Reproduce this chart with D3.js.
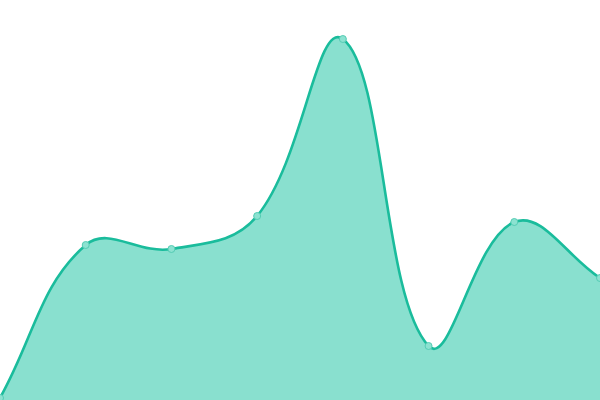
<!DOCTYPE html>
<html>
<head>
<meta charset="utf-8">
<script src="https://cdn.jsdelivr.net/npm/d3@7"></script>
<style>
  html, body { margin: 0; padding: 0; background: #fff; }
  svg { display: block; }
</style>
</head>
<body>
<div id="chart"></div>
<script>
"use strict";

const categories = ["A", "B", "C", "D", "E", "F", "G", "H"];
const values = [2, 155, 151, 184, 361, 54, 178, 122];

const WIDTH = 600;
const HEIGHT = 400;
const TENSION = 0.4;

// distance weighted spline, control points from neighbours
function splineCurve(context)
{
    return {
        areaStart() { this._line = 0; },
        areaEnd() { this._line = NaN; },
        lineStart() { this._pts = []; },
        point(px, py) { this._pts.push([+px, +py]); },
        lineEnd()
        {
            let p = this._pts, n = p.length;
            if (n)
            {
                if (this._line) context.lineTo(p[0][0], p[0][1]);
                else context.moveTo(p[0][0], p[0][1]);

                let cps = p.map((cur, i) =>
                {
                    let prev = p[Math.max(i - 1, 0)];
                    let next = p[Math.min(i + 1, n - 1)];
                    let d01 = Math.hypot(cur[0] - prev[0], cur[1] - prev[1]);
                    let d12 = Math.hypot(next[0] - cur[0], next[1] - cur[1]);
                    let s01 = d01 / (d01 + d12) || 0;
                    let s12 = d12 / (d01 + d12) || 0;
                    let fa = TENSION * s01, fb = TENSION * s12;
                    return {
                        inX: cur[0] - fa * (next[0] - prev[0]),
                        inY: cur[1] - fa * (next[1] - prev[1]),
                        outX: cur[0] + fb * (next[0] - prev[0]),
                        outY: cur[1] + fb * (next[1] - prev[1])
                    };
                });

                for (let i = 1; i < n; i++)
                    context.bezierCurveTo(cps[i - 1].outX, cps[i - 1].outY,
                                          cps[i].inX, cps[i].inY,
                                          p[i][0], p[i][1]);
            }
            if (this._line || (this._line !== 0 && n === 1)) context.closePath();
            this._line = 1 - this._line;
        }
    };
}

let svg = d3.select("#chart")
            .append("svg")
            .attr("width", WIDTH)
            .attr("height", HEIGHT);

let x = d3.scalePoint()
          .domain(categories)
          .range([0, WIDTH]);

let y = d3.scaleLinear()
          .domain([0, 400])
          .range([HEIGHT, 0]);

let area = d3.area()
             .x((d, i) => x(categories[i]))
             .y0(y(0))
             .y1((d) => y(d))
             .curve(splineCurve);

let line = d3.line()
             .x((d, i) => x(categories[i]))
             .y((d) => y(d))
             .curve(splineCurve);

svg.append("path")
   .datum(values)
   .attr("fill", "#89e0cf")
   .attr("d", area);

svg.append("path")
   .datum(values)
   .attr("fill", "none")
   .attr("stroke", "#1abc9c")
   .attr("stroke-width", 2.6)
   .attr("d", line);

svg.selectAll("circle")
   .data(values)
   .enter()
   .append("circle")
   .attr("cx", (d, i) => x(categories[i]))
   .attr("cy", (d) => y(d))
   .attr("r", 3.5)
   .attr("fill", "#8ce2d1")
   .attr("stroke", "#55ccb4")
   .attr("stroke-width", 1);
</script>
</body>
</html>
